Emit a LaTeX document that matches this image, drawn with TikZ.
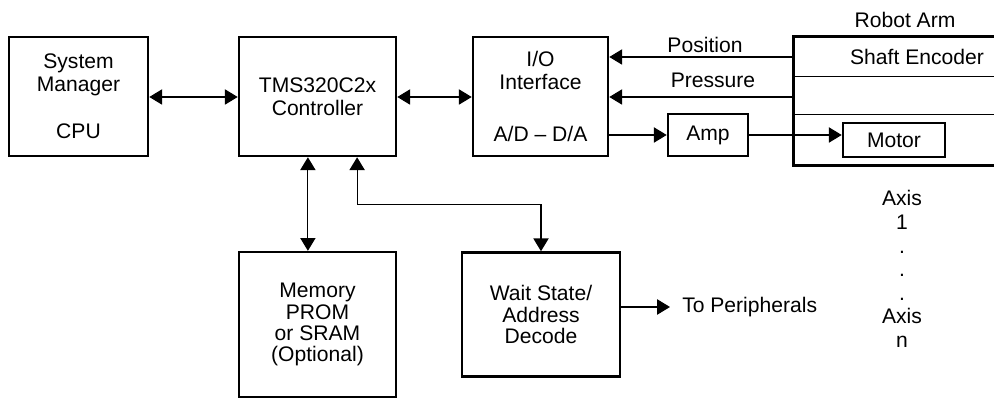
\documentclass[tikz,border=0pt]{standalone}
\usepackage{fontspec}
\setmainfont{Liberation Sans}
\usetikzlibrary{arrows.meta, positioning, calc}

\begin{document}
\begin{tikzpicture}[
    x=0.025cm, y=-0.025cm,
    font=\fontsize{15}{16.5}\selectfont,
    box/.style={rectangle, draw, line width=1.8pt, align=center, inner sep=0pt},
    lbl/.style={inner sep=0pt, align=center},
    arrow/.style={-{Triangle[length=0.32cm, width=0.38cm]}, line width=0.85pt},
    biarrow/.style={{Triangle[length=0.32cm, width=0.38cm]}-{Triangle[length=0.32cm, width=0.38cm]}, line width=0.85pt}
]
\useasboundingbox (0,0) rectangle (994,400);

\node[box, minimum width=3.475cm, minimum height=2.975cm] (sm) at (78.5,96.5) {System\\Manager\\[0.6cm]CPU};
\node[box, minimum width=3.925cm, minimum height=2.975cm] (ctrl) at (317.5,96.5) {TMS320C2x\\Controller};
\node[box, minimum width=3.375cm, minimum height=2.975cm] (io) at (540.5,96.5) {I/O\\Interface\\[0.72cm]A/D -- D/A};
\node[box, minimum width=2cm, minimum height=1.05cm] (amp) at (708,135) {Amp};
\node[box, minimum width=2.55cm, minimum height=0.85cm] (motor) at (894,140) {Motor};
\node[box, minimum width=3.925cm, minimum height=3.62cm, font=\fontsize{15}{15}\selectfont] (mem) at (317.5,324.5) {Memory\\PROM\\or SRAM\\(Optional)};
\node[box, minimum width=3.95cm, minimum height=3.1cm, font=\fontsize{15}{15}\selectfont] (wait) at (541,314.5) {Wait State/\\Address\\Decode};

\node[minimum width=5cm, minimum height=3.2cm, inner sep=0pt] (arm) at (894,101) {};
\draw[line width=1.8pt] (arm.north east) -- (arm.north west) -- (arm.south west) -- (arm.south east);
\draw[line width=0.6pt] ($(arm.north west)+(0,40)$) -- ($(arm.north east)+(0,40)$);
\draw[line width=0.6pt] ($(arm.north west)+(0,78)$) -- ($(arm.north east)+(0,78)$);

\node[lbl] (robot) at (905,20) {Robot Arm};
\node[lbl] (shaft) at (917,57) {Shaft Encoder};
\node[lbl] (pos) at (705,45) {Position};
\node[lbl] (press) at (713,80) {Pressure};
\node[lbl, anchor=west] (perif) at (682,307) {To Peripherals};
\node[lbl, font=\fontsize{15}{16.8}\selectfont] (axis) at (902,269) {Axis\\1\\.\\.\\.\\Axis\\n};

\draw[biarrow] (sm.east |- 0,97) -- (ctrl.west |- 0,97);
\draw[biarrow] (ctrl.east |- 0,97) -- (io.west |- 0,97);
\draw[arrow] (arm.west |- 0,57) -- (io.east |- 0,57);
\draw[arrow] (arm.west |- 0,97) -- (io.east |- 0,97);
\draw[arrow] (io.east |- amp.west) -- (amp.west);
\draw[arrow] (amp.east) -- (amp.east -| motor.west);
\draw[biarrow] ([xshift=-0.24cm]ctrl.south) -- ([xshift=-0.24cm]mem.north);
\draw[biarrow] ([xshift=0.99cm]ctrl.south) -- ++(0,47) -| (wait.north);
\draw[arrow] (wait.east |- perif.west) -- ([xshift=-0.3cm]perif.west);
\end{tikzpicture}
\end{document}
